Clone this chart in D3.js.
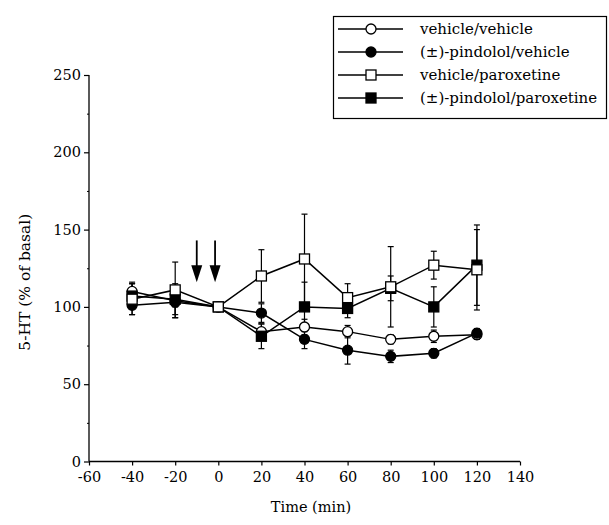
<!DOCTYPE html>
<html>
<head>
<meta charset="utf-8">
<script src="https://cdn.jsdelivr.net/npm/d3@7"></script>
<style>
  html, body { margin: 0; padding: 0; background: #fff; }
  svg { display: block; font-family: "DejaVu Serif", "Liberation Serif", serif; }
</style>
</head>
<body>
<div id="chart"></div>
<script>
// 5-HT 时程图: 四组处理, 均值 ± SEM, 两个注射箭头
const times = [-40, -20, 0, 20, 40, 60, 80, 100, 120];
const seriesNames = ["vehicle/vehicle", "(\u00b1)-pindolol/vehicle", "vehicle/paroxetine", "(\u00b1)-pindolol/paroxetine"];
const vehVeh = [110, 104, 100, 84, 87, 84, 79, 81, 82];
const vehVehSem = [6, 4, 0, 5, 5, 4, 3, 4, 3];
const pinVeh = [101, 103, 100, 96, 79, 72, 68, 70, 83];
const pinVehSem = [6, 10, 0, 6, 6, 9, 4, 3, 3];
const vehPar = [105, 111, 100, 120, 131, 106, 113, 127, 124];
const vehParSem = [10, 18, 0, 17, 29, 9, 26, 9, 26];
const pinPar = [107, 105, 100, 81, 100, 99, 112, 100, 127];
const pinParSem = [8, 10, 0, 8, 16, 6, 8, 13, 26];
const xTicks = [-60, -40, -20, 0, 20, 40, 60, 80, 100, 120, 140];
const yTicks = [0, 50, 100, 150, 200, 250];
const yMinor = [25, 75, 125, 175, 225];
const arrowTimes = [-10, -1.5];

const W = 609, H = 525;
const svg = d3.select("#chart").append("svg").attr("width", W).attr("height", H);

const x = d3.scaleLinear().domain([-60, 140]).range([89, 520]);
const y = d3.scaleLinear().domain([0, 250]).range([461.5, 75]);
const fmt = d => String(d); // 原图用普通连字符作负号

// 坐标轴
const gx = svg.append("g").attr("transform", `translate(0,${y(0)})`)
  .call(d3.axisBottom(x).tickValues(xTicks).tickSize(4).tickPadding(6).tickFormat(fmt));
const gy = svg.append("g").attr("transform", `translate(${x(-60)},0)`)
  .call(d3.axisLeft(y).tickValues(yTicks).tickSize(5).tickPadding(3).tickFormat(fmt));
svg.append("g").attr("transform", `translate(${x(-60)},0)`)
  .call(d3.axisLeft(y).tickValues(yMinor).tickSize(2).tickFormat(""))
  .select(".domain").remove();
[gx, gy].forEach(g => {
  g.select(".domain").attr("stroke", "#000").attr("stroke-width", 1.3);
  g.selectAll(".tick line").attr("stroke", "#000").attr("stroke-width", 1.2);
  g.selectAll("text").attr("fill", "#000").attr("font-size", 14.5)
    .attr("font-family", "DejaVu Serif, serif");
});
gx.select(".domain").attr("d", `M${x(-60)},0H${x(140)}`);
gy.select(".domain").attr("d", `M0,${y(0)}V${y(250)}`);

svg.append("text").attr("x", 311).attr("y", 512).attr("text-anchor", "middle")
  .attr("font-size", 14.5).text("Time (min)");
svg.append("text").attr("transform", `translate(30,${y(116)}) rotate(-90)`)
  .attr("text-anchor", "middle").attr("font-size", 15.5).text("5-HT (% of basal)");

// 箭头
const ag = svg.append("g");
arrowTimes.forEach(t => {
  const ax = x(t);
  ag.append("line").attr("x1", ax).attr("x2", ax).attr("y1", y(143)).attr("y2", y(122))
    .attr("stroke", "#000").attr("stroke-width", 1.8);
  ag.append("path").attr("d", `M${ax - 5.5},${y(127)}L${ax + 5.5},${y(127)}L${ax},${y(116)}Z`).attr("fill", "#000");
});

const series = [
  { name: seriesNames[0], vals: vehVeh, sem: vehVehSem, shape: "circle", fill: "#fff" },
  { name: seriesNames[1], vals: pinVeh, sem: pinVehSem, shape: "circle", fill: "#000" },
  { name: seriesNames[2], vals: vehPar, sem: vehParSem, shape: "square", fill: "#fff" },
  { name: seriesNames[3], vals: pinPar, sem: pinParSem, shape: "square", fill: "#000" },
];
const drawOrder = [0, 1, 3, 2]; // 空心方块压在实心方块上

function marker(g, shape, fill, cx, cy) {
  if (shape === "circle") {
    g.append("circle").attr("cx", cx).attr("cy", cy).attr("r", 5)
      .attr("fill", fill).attr("stroke", "#000").attr("stroke-width", 1.3);
  } else {
    g.append("rect").attr("x", cx - 5).attr("y", cy - 5).attr("width", 10).attr("height", 10)
      .attr("fill", fill).attr("stroke", "#000").attr("stroke-width", 1.3);
  }
}

const line = d3.line().x((d, i) => x(times[i])).y(d => y(d));

// 误差线
series.forEach(s => {
  const g = svg.append("g");
  s.vals.forEach((v, i) => {
    if (!s.sem[i]) return;
    const cx = x(times[i]);
    [1, -1].forEach(sign => {
      const ye = y(v + sign * s.sem[i]);
      g.append("line").attr("x1", cx).attr("x2", cx).attr("y1", y(v)).attr("y2", ye)
        .attr("stroke", "#000").attr("stroke-width", 1.2);
      g.append("line").attr("x1", cx - 3).attr("x2", cx + 3).attr("y1", ye).attr("y2", ye)
        .attr("stroke", "#000").attr("stroke-width", 1.2);
    });
  });
});

series.forEach(s => {
  svg.append("path").datum(s.vals).attr("d", line)
    .attr("fill", "none").attr("stroke", "#000").attr("stroke-width", 1.5);
});
drawOrder.forEach(k => {
  const s = series[k];
  const g = svg.append("g");
  s.vals.forEach((v, i) => marker(g, s.shape, s.fill, x(times[i]), y(v)));
});

// 图例
const lg = svg.append("g");
lg.append("rect").attr("x", 333.5).attr("y", 16.5).attr("width", 273).attr("height", 102)
  .attr("fill", "#fff").attr("stroke", "#000").attr("stroke-width", 1.2);
series.forEach((s, i) => {
  const yy = 29 + i * 23;
  lg.append("line").attr("x1", 338).attr("x2", 403).attr("y1", yy).attr("y2", yy)
    .attr("stroke", "#000").attr("stroke-width", 1.5);
  marker(lg, s.shape, s.fill, 371, yy);
  lg.append("text").attr("x", 420).attr("y", yy).attr("dy", "0.35em")
    .attr("font-size", 15).text(s.name);
});
</script>
</body>
</html>
